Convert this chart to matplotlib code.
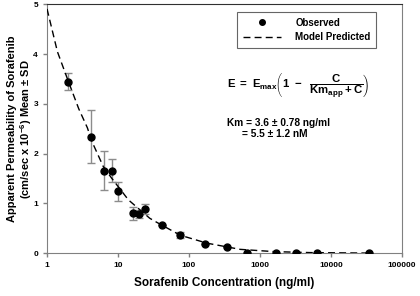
import numpy as np
import matplotlib.pyplot as plt

plt.rcParams['font.family'] = ['Liberation Sans', 'DejaVu Sans']
plt.rcParams['font.weight'] = 'bold'
plt.rcParams['mathtext.fontset'] = 'custom'
plt.rcParams['mathtext.rm'] = 'Liberation Sans:bold'
plt.rcParams['mathtext.it'] = 'Liberation Sans:bold'
plt.rcParams['mathtext.bf'] = 'Liberation Sans:bold'

conc = [2, 4.2, 6.3, 8.1, 10, 16.5, 19.5, 24, 41, 75, 166, 340, 660, 1660, 3240, 6460, 33800]
perm = [3.45, 2.34, 1.66, 1.66, 1.24, 0.80, 0.79, 0.89, 0.56, 0.36, 0.18, 0.13, 0.01, 0.01, 0.005, 0.0, 0.0]
sd = [0.18, 0.53, 0.39, 0.23, 0.19, 0.13, 0.08, 0.10, 0.0, 0.06, 0.0, 0.0, 0.0, 0.0, 0.0, 0.0, 0.0]

# model curve points
model_c = [1, 1.4, 2, 2.8, 3.7, 4.3, 6.2, 8.1, 14, 28, 35, 75, 178, 525, 1550, 5000, 33000]
model_e = [4.91, 4.05, 3.45, 2.9, 2.52, 2.24, 1.74, 1.51, 1.07, 0.70, 0.62, 0.36, 0.20, 0.075, 0.03, 0.01, 0.0]

fig = plt.figure(figsize=(4.2, 2.96), dpi=100)
ax = fig.add_axes([0.112, 0.145, 0.845, 0.84])

ax.errorbar(conc, perm, yerr=sd, fmt='none', ecolor='#8c8c8c', elinewidth=1, capsize=3, capthick=1, zorder=2)
line, = ax.plot(model_c, model_e, color='black', linestyle=(0, (5, 3)), linewidth=1, zorder=3)
pts, = ax.plot(conc, perm, 'o', color='black', markersize=5, zorder=4)

ax.set_xscale('log')
ax.set_xlim(1, 100000)
ax.set_ylim(0, 5)
ax.set_xticks([1, 10, 100, 1000, 10000, 100000])
ax.set_xticklabels(['1', '10', '100', '1000', '10000', '100000'])
ax.xaxis.set_minor_locator(plt.NullLocator())
ax.set_yticks([0, 1, 2, 3, 4, 5])
ax.tick_params(labelsize=6, length=3, color='#808080', width=1)

for s in ['left', 'bottom', 'right']:
    ax.spines[s].set_color('#808080')
ax.spines['top'].set_color('#303030')

ax.set_xlabel('Sorafenib Concentration (ng/ml)', fontsize=8.5, fontweight='bold')
ax.xaxis.set_label_coords(0.5, -0.095)
ax.set_ylabel('Apparent Permeability of Sorafenib\n(cm/sec x 10$^{-6}$) Mean ± SD', fontsize=8,
              fontweight='bold', linespacing=1.05)
ax.yaxis.set_label_coords(-0.038, 0.5)

leg = ax.legend([pts, line], ['Observed', 'Model Predicted'], loc='upper left',
                bbox_to_anchor=(0.535, 0.97), fontsize=7, frameon=True, fancybox=False,
                edgecolor='#404040', handlelength=3.9, borderpad=0.6, labelspacing=0.45,
                handletextpad=1.5, markerscale=0.8, borderaxespad=0)
leg.get_frame().set_linewidth(0.8)

ax.text(0.508, 0.67, r'$\mathbf{E\ =\ E_{max}}\left(\mathbf{1\ -\ \ \dfrac{C}{Km_{app}+C}}\right)$',
        transform=ax.transAxes, fontsize=8.2, va='center', ha='left')
ax.text(0.508, 0.525, 'Km = 3.6 ± 0.78 ng/ml', transform=ax.transAxes, fontsize=7.3, va='center')
ax.text(0.55, 0.48, '= 5.5 ± 1.2 nM', transform=ax.transAxes, fontsize=7.3, va='center')

fig.savefig('out.png', dpi=100)
